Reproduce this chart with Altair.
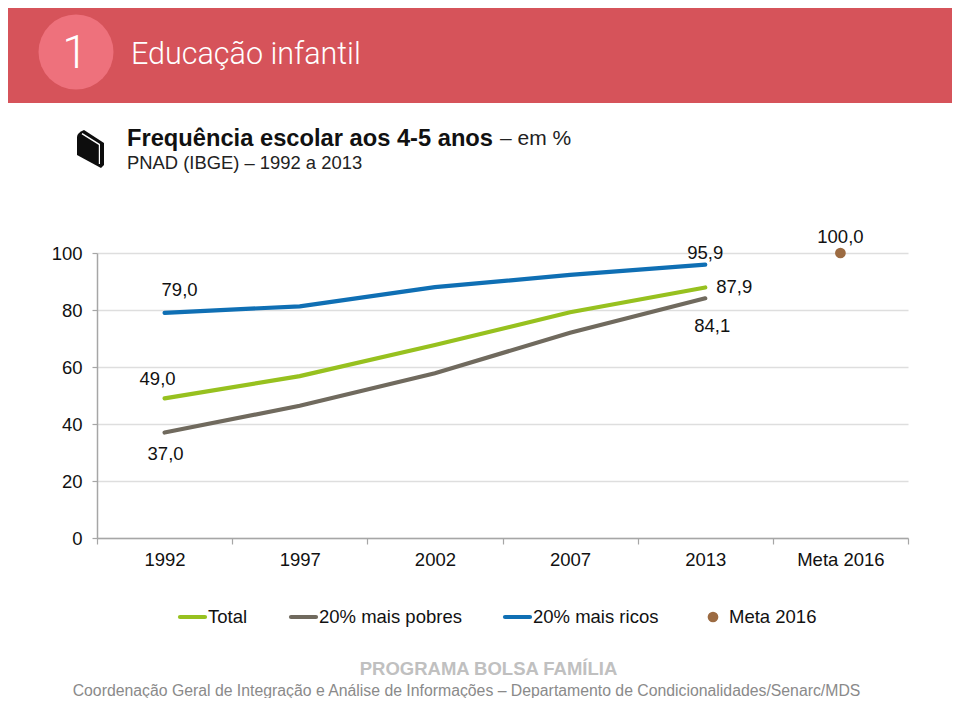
import altair as alt
import pandas as pd

categories = ["1992", "1997", "2002", "2007", "2013", "Meta 2016"]
line_years = ["1992", "1997", "2002", "2007", "2013"]
total = [49.0, 56.8, 67.7, 79.2, 87.9]
pobres = [37.0, 46.4, 57.8, 72.0, 84.1]
ricos = [79.0, 81.3, 88.0, 92.3, 95.9]
meta = [100.0]
series_names = ["Total", "20% mais pobres", "20% mais ricos", "Meta 2016"]
series_colors = ["#97c11f", "#706a5e", "#0f6fb4", "#9c6b42"]

# (category, value, text, dx, dy)
point_labels = [
    ("1992", 79.0, "79,0", 15, -23),
    ("1992", 49.0, "49,0", -7, -19),
    ("1992", 37.0, "37,0", 1, 21),
    ("2013", 95.9, "95,9", 0, -12),
    ("2013", 87.9, "87,9", 29, 0),
    ("2013", 84.1, "84,1", 7, 28),
    ("Meta 2016", 100.0, "100,0", 0, -16),
]

FONT = "Liberation Sans"
OX, OY = 97, 253  # page position of the plot area's origin


def px(x):
    return alt.value(x - OX)


def py(y):
    return alt.value(y - OY)


rows = []
for name, vals in zip(series_names[:3], [total, pobres, ricos]):
    for c, v in zip(line_years, vals):
        rows.append({"cat": c, "val": v, "series": name})
lines_df = pd.DataFrame(rows)
meta_df = pd.DataFrame({"cat": ["Meta 2016"], "val": meta, "series": ["Meta 2016"]})

x_enc = alt.X(
    "cat:N",
    sort=categories,
    title=None,
    scale=alt.Scale(type="band", domain=categories, paddingInner=0, paddingOuter=0),
    axis=alt.Axis(
        labelAngle=0,
        labelFont=FONT,
        labelFontSize=18.5,
        labelColor="#111111",
        labelPadding=6,
        tickBand="extent",
        tickSize=6,
        tickColor="#a6a6a6",
        domainColor="#a6a6a6",
        domainWidth=1.5,
        tickWidth=1.2,
        grid=False,
    ),
)
y_enc = alt.Y(
    "val:Q",
    title=None,
    scale=alt.Scale(domain=[0, 100]),
    axis=alt.Axis(
        values=[0, 20, 40, 60, 80, 100],
        labelFont=FONT,
        labelFontSize=18.5,
        labelColor="#111111",
        labelPadding=10,
        tickSize=5,
        tickColor="#a6a6a6",
        domainColor="#a6a6a6",
        domainWidth=1.5,
        tickWidth=1.2,
        grid=True,
        gridColor="#dedede",
        gridWidth=1.3,
    ),
)

lines = (
    alt.Chart(lines_df)
    .mark_line(strokeWidth=4.2, strokeCap="round")
    .encode(
        x=x_enc,
        y=y_enc,
        stroke=alt.Stroke(
            "series:N",
            scale=alt.Scale(domain=series_names, range=series_colors),
            legend=None,
        ),
    )
)

meta_pt = (
    alt.Chart(meta_df)
    .mark_circle(opacity=1, size=115, color=series_colors[3])
    .encode(
        x=alt.X("cat:N", sort=categories, title=None),
        y=alt.Y("val:Q", title=None),
    )
)

labels = []
for cat, val, text, dx, dy in point_labels:
    labels.append(
        alt.Chart(pd.DataFrame({"cat": [cat], "val": [val], "t": [text]}))
        .mark_text(font=FONT, fontSize=18.5, color="#111111", dx=dx, dy=dy, align="center", baseline="middle")
        .encode(x=alt.X("cat:N", sort=categories, title=None), y=alt.Y("val:Q", title=None), text="t:N")
    )

one = pd.DataFrame({"a": [0]})


def rect(x1, y1, x2, y2, color):
    return alt.Chart(one).mark_rect(color=color).encode(x=px(x1), x2=px(x2), y=py(y1), y2=py(y2))


def label(text, x, y, size, color="#111111", bold=False, align="left", font=FONT, weight=None):
    return (
        alt.Chart(pd.DataFrame({"t": [text]}))
        .mark_text(
            font=font,
            fontSize=size,
            color=color,
            align=align,
            baseline="middle",
            fontWeight=weight if weight else ("bold" if bold else "normal"),
        )
        .encode(x=px(x), y=py(y), text="t:N")
    )


def symbol(x, y, shape, size, color):
    return (
        alt.Chart(one)
        .mark_point(shape=shape, size=size, filled=True, color=color, opacity=1)
        .encode(x=px(x), y=py(y))
    )


def swatch(x1, x2, y, color):
    return (
        alt.Chart(one)
        .mark_rule(color=color, strokeWidth=4.2, strokeCap="round")
        .encode(x=px(x1), x2=px(x2), y=py(y))
    )


BOOK = "M-0.65,-0.6Q-0.65,-0.8 -0.3,-0.95L0.7,-0.3V0.8L0.55,0.95L-0.65,0.3Z"
BOOK_LINE = "M-0.38,-0.8L0.5,-0.25V0.75L0.44,0.75V-0.2L-0.42,-0.74Z"

deco = [
    rect(4, 0, 960, 103, "#d6535a"),
    symbol(76, 52, "circle", 5625, "#ee717c"),
    label("1", 75, 54, 46, "#ffffff", align="center", font="Roboto", weight=300),
    label("Educação infantil", 131, 55, 30.5, "#ffffff", font="Roboto", weight=300),
    symbol(90, 149, BOOK, 1600, "#0d0d0d"),
    symbol(90, 149, BOOK_LINE, 1600, "#ffffff"),
    label("Frequência escolar aos 4-5 anos", 127, 139, 23.7, "#111111", bold=True),
    label("– em %", 500, 139, 21, "#222222"),
    label("PNAD (IBGE) – 1992 a 2013", 127, 163, 18.4, "#222222"),
    label("PROGRAMA BOLSA FAMÍLIA", 488.5, 669, 18.5, "#c0c0c0", bold=True, align="center"),
    label(
        "Coordenação Geral de Integração e Análise de Informações – Departamento de Condicionalidades/Senarc/MDS",
        466.5,
        691,
        15.8,
        "#8a8a8a",
        align="center",
    ),
]

legend_items = [
    swatch(180, 205, 617, series_colors[0]),
    label(series_names[0], 208, 617, 18.5),
    swatch(291, 316, 617, series_colors[1]),
    label(series_names[1], 319, 617, 18.5),
    swatch(505, 530, 617, series_colors[2]),
    label(series_names[2], 533, 617, 18.5),
    symbol(713, 617, "circle", 115, series_colors[3]),
    label(series_names[3], 729, 617, 18.5),
]

chart = (
    alt.layer(*deco, lines, meta_pt, *labels, *legend_items)
    .properties(
        width=811,
        height=285,
        padding={"left": 89, "top": 245, "right": 44, "bottom": 160},
        autosize=alt.AutoSizeParams(type="none"),
    )
    .configure_view(stroke=None)
)
chart.save("out.html", embed_options={"renderer": "svg", "actions": False})
